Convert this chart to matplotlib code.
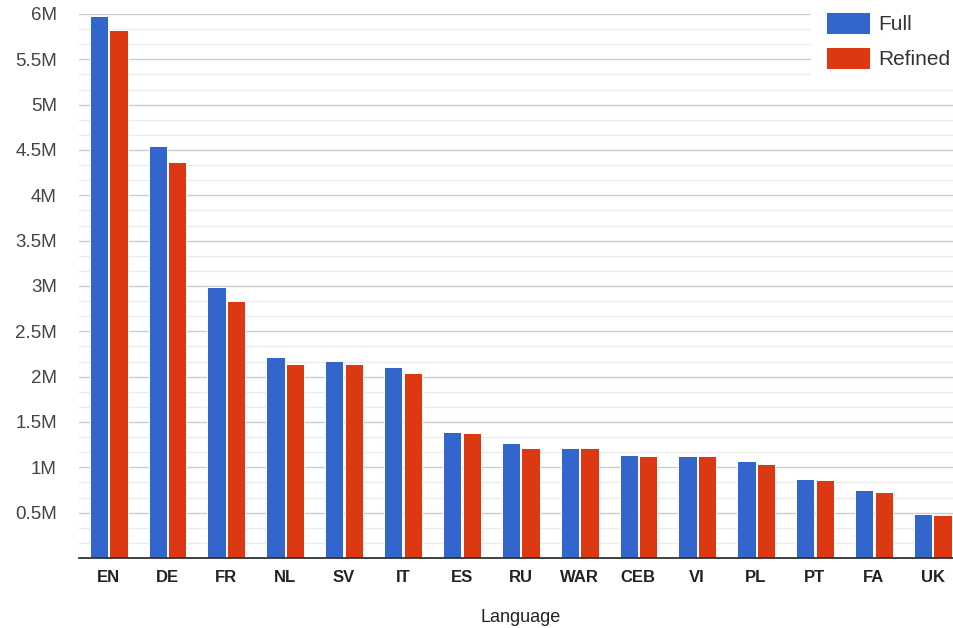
import matplotlib
matplotlib.use("Agg")
import matplotlib.pyplot as plt
import numpy as np
from matplotlib.ticker import MultipleLocator, FixedLocator

plt.rcParams['font.family'] = ['Liberation Sans', 'DejaVu Sans']

languages = ["EN", "DE", "FR", "NL", "SV", "IT", "ES", "RU", "WAR", "CEB", "VI", "PL", "PT", "FA", "UK"]
full = [5.98, 4.54, 2.985, 2.22, 2.17, 2.107, 1.39, 1.265, 1.217, 1.133, 1.121, 1.073, 0.875, 0.746, 0.489]
refined = [5.82, 4.37, 2.834, 2.136, 2.136, 2.037, 1.375, 1.217, 1.217, 1.121, 1.121, 1.037, 0.860, 0.731, 0.474]
series_names = ["Full", "Refined"]
y_ticks = [0.5, 1, 1.5, 2, 2.5, 3, 3.5, 4, 4.5, 5, 5.5, 6]
y_tick_labels = ["0.5M", "1M", "1.5M", "2M", "2.5M", "3M", "3.5M", "4M", "4.5M", "5M", "5.5M", "6M"]

W, H = 954, 628
fig = plt.figure(figsize=(W / 100, H / 100), dpi=100)
ax = fig.add_axes([79 / W, (H - 558) / H, (W - 79) / W, (558 - 14) / H])

x = np.arange(len(languages))
bw = 0.31
ax.bar(x - 0.163, np.array(full) * 1e6, width=bw, color="#3366CC", edgecolor="white",
       linewidth=0.7, label=series_names[0], zorder=3)
ax.bar(x + 0.170, np.array(refined) * 1e6, width=bw, color="#DC3912", edgecolor="white",
       linewidth=0.7, label=series_names[1], zorder=3)

ax.set_xlim(-0.5, -0.5 + 875 / 58.87)
ax.set_ylim(0, 6e6)

ax.yaxis.set_major_locator(FixedLocator([v * 1e6 for v in y_ticks]))
ax.set_yticklabels(y_tick_labels)
ax.yaxis.set_minor_locator(MultipleLocator(0.5e6 / 3))
ax.grid(axis="y", which="major", color="#cccccc", linewidth=1.0, zorder=0)
ax.grid(axis="y", which="minor", color="#ebebeb", linewidth=1.0, zorder=0)
ax.tick_params(axis="y", which="both", length=0, pad=16, labelsize=13.5, labelcolor="#444444")

ax.set_xticks(x)
ax.set_xticklabels(languages, fontweight="bold")
ax.tick_params(axis="x", length=0, pad=9, labelsize=12, labelcolor="#222222")

for s in ["top", "right", "left"]:
    ax.spines[s].set_visible(False)
ax.spines["bottom"].set_color("#333333")
ax.spines["bottom"].set_linewidth(1.3)
ax.spines["bottom"].set_zorder(4)

ax.set_xlabel("Language", fontsize=13, color="#222222")
ax.xaxis.set_label_coords((520.5 - 79) / 875, -(617 - 558) / 544)
ax.xaxis.label.set_va("center")

leg = ax.legend(loc="upper left", bbox_to_anchor=(811 / W, 1 + 3 / H), bbox_transform=fig.transFigure,
                fontsize=15, frameon=True, fancybox=False, framealpha=1.0,
                handlelength=2.15, handleheight=1.25, handletextpad=0.4,
                labelspacing=0.62, borderpad=0.7, borderaxespad=0)
leg.get_frame().set_facecolor("white")
leg.get_frame().set_edgecolor("white")
leg.set_zorder(10)
for t in leg.get_texts():
    t.set_color("#333333")

fig.savefig("out.png", dpi=100)
